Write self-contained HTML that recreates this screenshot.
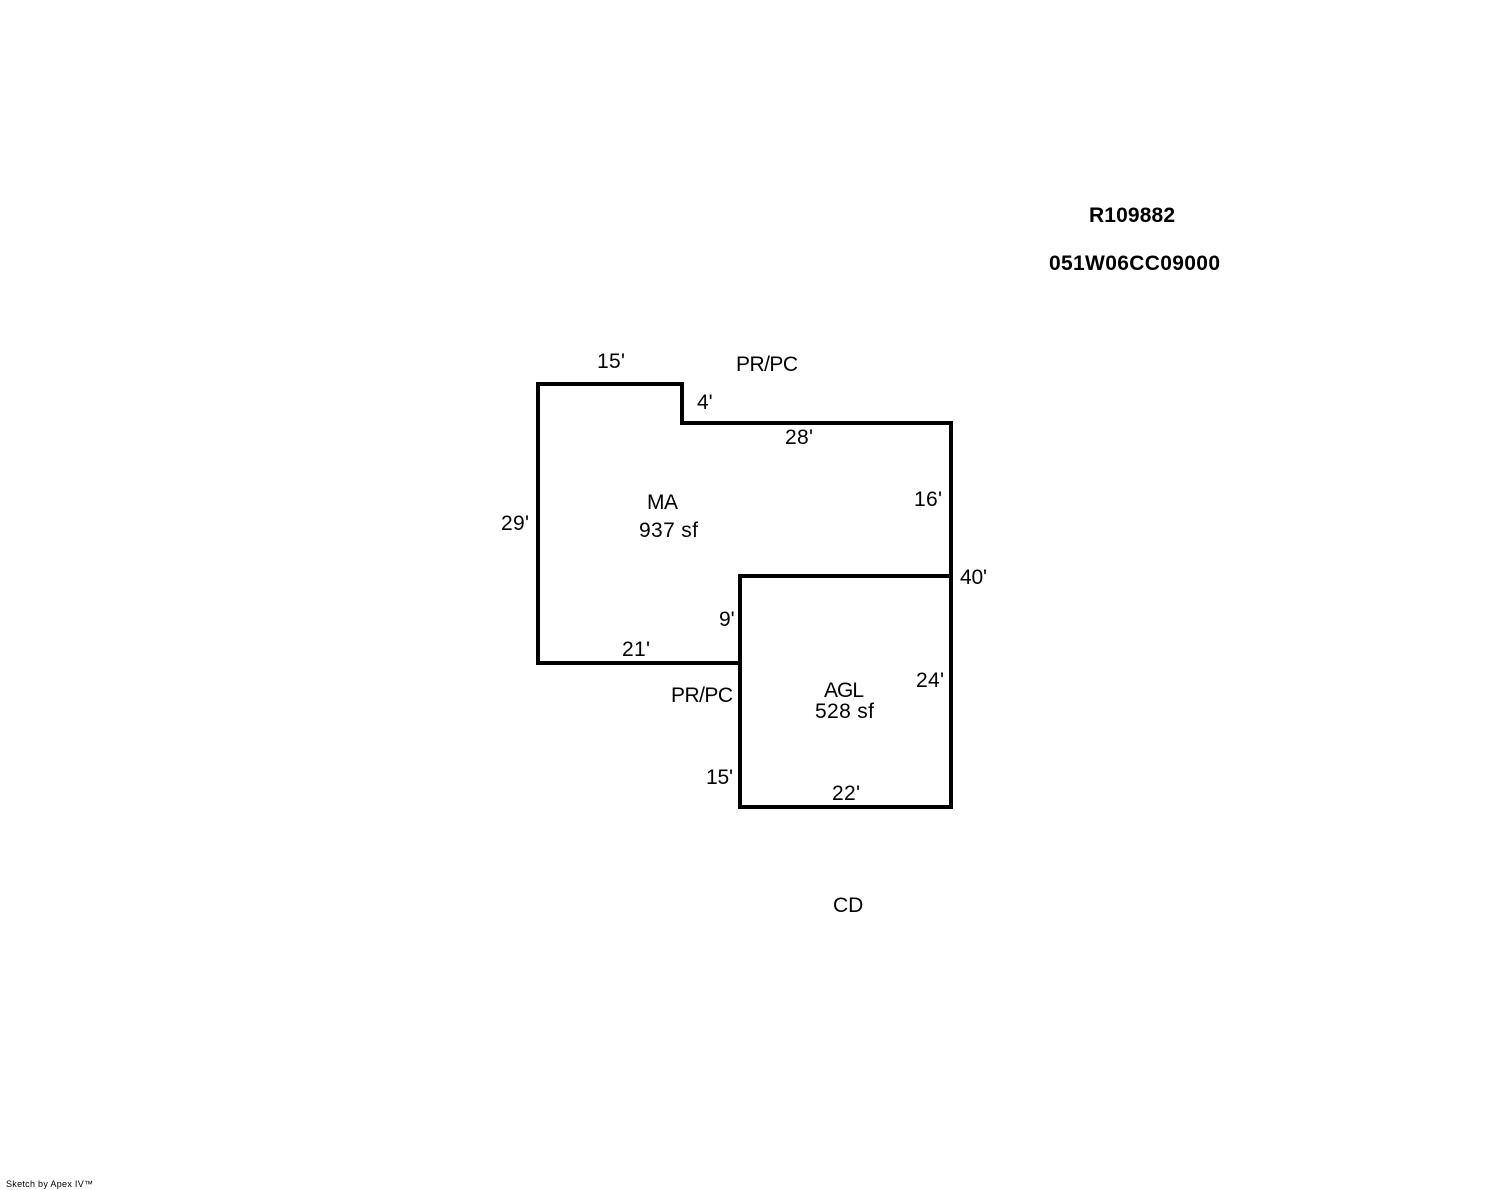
<!DOCTYPE html>
<html lang="en">
<head>
<meta charset="utf-8">
<title>Sketch</title>
<style>
html,body{margin:0;padding:0;background:#fff;width:1488px;height:1190px;overflow:hidden}
svg{display:block}
text{font-family:"Liberation Sans",Arial,sans-serif;font-size:21px;fill:#000}
.b{font-weight:bold}
</style>
</head>
<body>
<svg width="1488" height="1190" viewBox="0 0 1488 1190" xmlns="http://www.w3.org/2000/svg">
<rect width="1488" height="1190" fill="#fff"/>
<g fill="none" stroke="#000" stroke-width="4" stroke-linecap="butt" stroke-linejoin="miter">
<path d="M538 384H682V423H951V807H740V663H538Z"/>
<path d="M740 663V576H951"/>
</g>
<text class="b" x="1089" y="222" textLength="86">R109882</text>
<text class="b" x="1049" y="270" textLength="171">051W06CC09000</text>
<text x="597" y="368" textLength="28">15'</text>
<text x="736" y="371" textLength="62">PR/PC</text>
<text x="697" y="409">4'</text>
<text x="785" y="444" textLength="28">28'</text>
<text x="914" y="506" textLength="28">16'</text>
<text x="647" y="509" textLength="31">MA</text>
<text x="639" y="537" textLength="59">937 sf</text>
<text x="501" y="530" textLength="28">29'</text>
<text x="960" y="584" textLength="27">40'</text>
<text x="719" y="626">9'</text>
<text x="622" y="656" textLength="28">21'</text>
<text x="916" y="687" textLength="28">24'</text>
<text x="824" y="697" textLength="40">AGL</text>
<text x="815" y="718" textLength="59">528 sf</text>
<text x="671" y="702" textLength="62">PR/PC</text>
<text x="706" y="784" textLength="27">15'</text>
<text x="832" y="800" textLength="28">22'</text>
<text x="833" y="912">CD</text>
<text x="6" y="1187" style="font-size:9px" textLength="87">Sketch by Apex IV™</text>
</svg>
</body>
</html>
